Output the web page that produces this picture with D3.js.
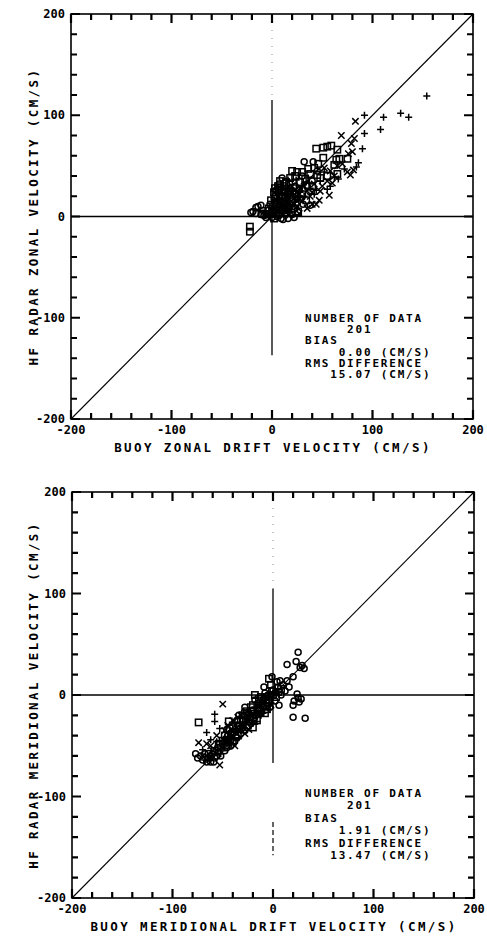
<!DOCTYPE html>
<html><head><meta charset="utf-8">
<script src="https://cdn.jsdelivr.net/npm/d3@7"></script>
<style>body{margin:0;background:#fff}svg{display:block}</style>
</head><body><svg id="c" width="487" height="936"></svg>
<script>
// ---------- data ----------
const majorTicks = [-200, -100, 0, 100, 200];
const minorTicks = [-180,-160,-140,-120,-80,-60,-40,-20,20,40,60,80,120,140,160,180];

// Panel 1: zonal (buoy x, radar y) in cm/s
const zonalSquares = [[44,67],[51,68],[55,69],[59,70],[65,66],[64,56],[67,57],[75,57],[62,51],[65,42],[46,52],[51,58],[20,45],[25,44],[30,44],[38,42],[45,41],[55,40],[34,16],[26,5],[-22,-10],[-22,-15],[18,25],[10,20],[5,12],[0,5],[-5,2],[12,30],[8,35],[3,28],[15,10],[20,15],[30,22],[-10,3],[2,-2],[6,2],[40,30],[48,38],[22,8],[14,4],[4,20],[7,27],[9,18],[13,14],[17,32],[21,28],[24,22],[28,34],[33,37],[36,47],[42,48],[1,10],[-3,8],[11,6],[19,4],[2,24],[6,30],[10,26],[14,34],[18,38],[23,40],[-1,16],[3,6],[8,4],[12,9]];
const zonalCircles = [[32,54],[41,54],[-14,10],[-19,5],[-11,2],[11,-3],[26,4],[-4,6],[-8,1],[0,2],[4,8],[8,15],[12,20],[16,22],[18,12],[24,12],[28,18],[35,30],[40,35],[45,45],[30,40],[14,28],[6,24],[2,18],[-2,12],[10,6],[-16,3],[-6,-1],[20,2],[16,-2],[-21,4],[-16,9],[-11,11],[-9,6],[-6,2],[9,-2],[5,0],[3,14],[7,32],[10,38],[13,25],[19,19],[23,30],[27,26],[31,12],[38,11],[22,-1],[15,17],[1,6],[4,26],[8,21],[11,15],[15,12],[17,8],[21,24],[25,18],[-3,3],[0,-1],[7,11]];
const zonalCrosses = [[83,94],[69,80],[82,77],[79,72],[76,62],[80,64],[81,46],[78,41],[75,44],[57,21],[44,12],[40,12],[27,3],[60,33],[50,30],[35,25],[22,18],[10,8],[52,48],[65,50],[70,52],[58,45],[48,25],[38,20],[30,15],[25,10],[15,6],[12,12],[18,22],[28,28],[42,32],[55,35],[62,40],[35,8],[47,16],[17,1],[14,20],[20,30],[26,22],[32,30],[9,14],[5,16],[18,6],[40,24]];
const zonalPlus = [[154,119],[128,102],[136,98],[111,98],[108,86],[92,100],[92,82],[90,67],[86,53],[84,49],[62,39],[48,35],[30,30],[20,26],[55,27],[72,47],[66,37],[58,30],[44,26],[38,28],[32,20],[26,17],[20,10],[14,16],[8,10],[4,4],[10,24],[16,28],[24,36],[36,38],[52,44],[42,22],[6,18],[12,4],[22,14],[28,24],[34,34],[16,36]];

// Panel 2: meridional
const meridSquares = [[-74,-27],[-4,16],[-18,0],[-12,-6],[-30,-20],[-40,-30],[-35,-40],[-45,-50],[-25,-30],[-20,-22],[-15,-15],[-10,-10],[-5,-5],[0,0],[5,3],[-50,-45],[-58,-55],[-32,-25],[-28,-18],[-22,-12],[-2,10],[3,-2],[-6,-14],[-38,-36],[-43,-33],[-48,-40],[-54,-48],[-16,-25],[-64,-58],[-52,-52],[-40,-46],[-33,-30],[-27,-24],[-12,-2],[-8,-18],[-1,4],[8,6],[-20,-32],[-44,-26],[-26,-16],[-20,-10],[-14,-4],[-8,-2],[-34,-34],[-46,-44]];
const meridCircles = [[25,42],[14,30],[23,33],[27,27],[31,26],[29,29],[20,18],[14,14],[24,1],[25,-3],[28,-4],[21,-6],[20,-10],[26,-7],[20,-22],[32,-23],[6,-10],[-9,8],[-1,18],[4,13],[-77,-58],[-59,-66],[-75,-62],[-70,-64],[-65,-62],[-68,-58],[-62,-60],[-55,-52],[-50,-48],[-45,-40],[-40,-38],[-35,-30],[-30,-25],[-25,-20],[-20,-15],[-15,-8],[-10,-5],[-5,0],[0,5],[5,8],[10,10],[8,0],[2,-6],[-3,-12],[-12,-18],[-22,-28],[-28,-35],[-38,-45],[-42,-50],[-48,-55],[-52,-60],[-18,-5],[-8,2],[12,4],[16,8],[-66,-66],[-72,-60],[-60,-58],[-56,-60],[-46,-52],[-42,-45],[-36,-42],[-32,-38],[-26,-32],[-24,-26],[-18,-20],[-14,-14],[-6,-8],[-2,-2],[3,3],[7,14],[-28,-12],[-34,-20],[-46,-34],[-36,-25],[-30,-32],[-22,-22],[-16,-18],[-10,-12],[-4,-6],[2,2],[-48,-46],[-54,-56],[-58,-62],[-62,-66],[-42,-38]];
const meridCrosses = [[-50,-9],[-53,-69],[-74,-47],[-66,-48],[-60,-55],[-45,-30],[-40,-25],[-35,-22],[-30,-28],[-28,-38],[-42,-42],[-36,-32],[-25,-25],[-20,-18],[-15,-20],[-10,-15],[-56,-40],[-62,-50],[-70,-60],[-48,-35],[-64,-62],[-50,-52],[-44,-48],[-24,-34],[-18,-26],[-12,-10],[-6,-4],[-2,-10],[-38,-50],[-32,-20],[-26,-20],[-14,-12],[-40,-42]];
const meridPlus = [[-58,-19],[-66,-37],[-58,-26],[-53,-33],[-62,-44],[-70,-54],[-45,-45],[-38,-28],[-32,-35],[-27,-27],[-22,-20],[-18,-12],[-12,-20],[-8,-8],[-52,-58],[-64,-60],[-44,-38],[-34,-42],[-56,-46],[-48,-42],[-40,-34],[-30,-30],[-24,-16],[-16,-26],[-4,-14],[-68,-64],[-36,-36],[-28,-22],[-20,-28],[-10,-18]];

const zonalStats = ["NUMBER OF DATA", "     201", "BIAS", "    0.00 (CM/S)", "RMS DIFFERENCE", "   15.07 (CM/S)"];
const meridStats = ["NUMBER OF DATA", "     201", "BIAS", "    1.91 (CM/S)", "RMS DIFFERENCE", "   13.47 (CM/S)"];

// ---------- drawing ----------
const svg = d3.select("#c");
const MONO = "'DejaVu Sans Mono', 'Liberation Mono', monospace";

const panels = [
  {xl:"BUOY ZONAL DRIFT VELOCITY (CM/S)", yl:"HF RADAR ZONAL VELOCITY (CM/S)",
   x0:71, x1:473, y0:14, y1:419, statsY:322, statsDy:11.2, stats:zonalStats,
   sq:zonalSquares, ci:zonalCircles, cr:zonalCrosses, pl:zonalPlus,
   vSolid:[-137,115], vDash:null},
  {xl:"BUOY MERIDIONAL DRIFT VELOCITY (CM/S)", yl:"HF RADAR MERIDIONAL VELOCITY (CM/S)",
   x0:72, x1:474, y0:492, y1:898, statsY:797, statsDy:12.4, stats:meridStats,
   sq:meridSquares, ci:meridCircles, cr:meridCrosses, pl:meridPlus,
   vSolid:[-67,105], vDash:[-158,-125]}
];

panels.forEach(p => {
  const x = d3.scaleLinear().domain([-200,200]).range([p.x0,p.x1]);
  const y = d3.scaleLinear().domain([-200,200]).range([p.y1,p.y0]);
  const g = svg.append("g");

  // frame
  g.append("rect").attr("x",p.x0).attr("y",p.y0).attr("width",p.x1-p.x0).attr("height",p.y1-p.y0)
    .attr("fill","none").attr("stroke","#000").attr("stroke-width",1.6);

  // tick labels
  g.selectAll(".xt").data(majorTicks).join("text")
    .attr("x", d=>x(d)).attr("y", p.y1+15)
    .attr("text-anchor","middle").attr("font-family",MONO).attr("font-size",12).attr("font-weight","bold")
    .text(d=>d);
  g.selectAll(".yt").data(majorTicks).join("text")
    .attr("x", p.x0-6).attr("y", d=>y(d)+4)
    .attr("text-anchor","end").attr("font-family",MONO).attr("font-size",12).attr("font-weight","bold")
    .text(d=>d);

  // axis titles
  g.append("text").attr("x",(p.x0+p.x1)/2+1).attr("y",p.y1+33)
    .attr("text-anchor","middle").attr("font-family",MONO).attr("font-size",12.5).attr("font-weight","bold")
    .attr("letter-spacing",2.4).text(p.xl);
  g.append("text").attr("transform",`translate(38,${(p.y0+p.y1)/2}) rotate(-90)`)
    .attr("text-anchor","middle").attr("font-family",MONO).attr("font-size",12.5).attr("font-weight","bold")
    .attr("letter-spacing",2.4).text(p.yl);

  // zero lines
  g.append("line").attr("x1",p.x0).attr("x2",p.x1).attr("y1",y(0)).attr("y2",y(0))
    .attr("stroke","#000").attr("stroke-width",1.6);
  g.append("line").attr("x1",x(0)).attr("x2",x(0)).attr("y1",y(p.vSolid[1])).attr("y2",y(p.vSolid[0]))
    .attr("stroke","#000").attr("stroke-width",1.3);
  g.append("line").attr("x1",x(0)).attr("x2",x(0)).attr("y1",y(200)).attr("y2",y(p.vSolid[1]))
    .attr("stroke","#888").attr("stroke-width",1).attr("stroke-dasharray","1,7");
  if (p.vDash) {
    g.append("line").attr("x1",x(0)).attr("x2",x(0)).attr("y1",y(p.vDash[1])).attr("y2",y(p.vDash[0]))
      .attr("stroke","#000").attr("stroke-width",1.2).attr("stroke-dasharray","5,3");
  }
  // 1:1 line
  g.append("line").attr("x1",x(-200)).attr("y1",y(-200)).attr("x2",x(200)).attr("y2",y(200))
    .attr("stroke","#000").attr("stroke-width",1.1);

  // markers
  const mg = g.append("g").attr("fill","none").attr("stroke","#000").attr("stroke-width",1.5);
  const s = 3.2;
  mg.selectAll(".sq").data(p.sq).join("rect")
    .attr("x", d=>x(d[0])-s).attr("y", d=>y(d[1])-s).attr("width",2*s).attr("height",2*s);
  mg.selectAll(".ci").data(p.ci).join("circle")
    .attr("cx", d=>x(d[0])).attr("cy", d=>y(d[1])).attr("r",3);
  mg.selectAll(".cr").data(p.cr).join("path")
    .attr("d", d=>{const cx=x(d[0]),cy=y(d[1]);return `M${cx-3.2},${cy-3.2}L${cx+3.2},${cy+3.2}M${cx-3.2},${cy+3.2}L${cx+3.2},${cy-3.2}`;});
  mg.selectAll(".pl").data(p.pl).join("path")
    .attr("d", d=>{const cx=x(d[0]),cy=y(d[1]);return `M${cx-3.5},${cy}L${cx+3.5},${cy}M${cx},${cy-3.5}L${cx},${cy+3.5}`;});

  // stats text
  g.selectAll(".st").data(p.stats).join("text")
    .attr("x",305).attr("y",(d,i)=>p.statsY+i*p.statsDy)
    .attr("font-family",MONO).attr("font-size",11).attr("font-weight","bold")
    .attr("letter-spacing",1.8).style("white-space","pre")
    .text(d=>d);

  // inward ticks on all four sides (drawn last, from the scales)
  const tp = d3.path();
  [[majorTicks, 9],[minorTicks, 6]].forEach(([vals, len]) => {
    vals.forEach(v => {
      tp.moveTo(x(v), p.y1); tp.lineTo(x(v), p.y1 - len);
      tp.moveTo(x(v), p.y0); tp.lineTo(x(v), p.y0 + len);
      tp.moveTo(p.x0, y(v)); tp.lineTo(p.x0 + len, y(v));
      tp.moveTo(p.x1, y(v)); tp.lineTo(p.x1 - len, y(v));
    });
  });
  svg.append("path").attr("d", tp.toString()).attr("fill","none")
    .attr("stroke","#000").attr("stroke-width",2.2);
});
</script></body></html>
